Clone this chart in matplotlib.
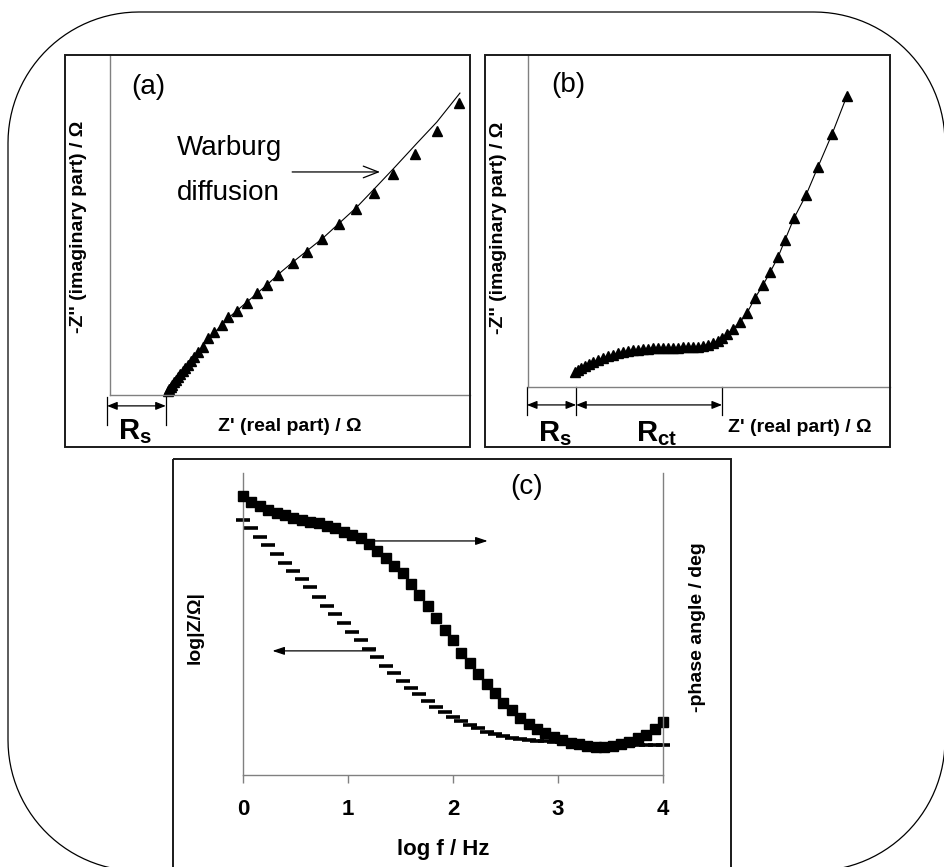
import numpy as np
import matplotlib
matplotlib.use("Agg")
import matplotlib.pyplot as plt
from matplotlib.patches import Rectangle, PathPatch
from matplotlib.path import Path
from matplotlib.transforms import Affine2D

plt.rcParams['font.family'] = ['Liberation Sans', 'DejaVu Sans']
plt.rcParams['mathtext.fontset'] = 'custom'
plt.rcParams['mathtext.rm'] = 'Liberation Sans'
plt.rcParams['mathtext.bf'] = 'Liberation Sans:bold'
plt.rcParams['mathtext.it'] = 'Liberation Sans:italic'

# ---- (a) Nyquist plot, diffusion controlled (arbitrary units) ----
a_re = [1.61, 1.64, 1.69, 1.72, 1.78, 1.83, 1.89, 1.94, 2.03, 2.08, 2.17, 2.25,
        2.33, 2.44, 2.58, 2.72, 2.89, 3.11, 3.28, 3.53, 3.81, 4.08, 4.36, 4.67,
        5.08, 5.47, 5.89, 6.36, 6.83, 7.33, 7.86, 8.47, 9.08, 9.69]
a_im = [0.12, 0.18, 0.24, 0.29, 0.38, 0.44, 0.53, 0.62, 0.71, 0.79, 0.88, 1.00,
        1.12, 1.26, 1.41, 1.68, 1.85, 2.06, 2.29, 2.47, 2.71, 3.00, 3.24, 3.53,
        3.88, 4.21, 4.59, 5.03, 5.47, 5.94, 6.50, 7.09, 7.76, 8.59]
a_fit_re = [1.61, 1.72, 1.89, 2.08, 2.33, 2.58, 2.89, 3.28, 3.81, 4.36, 4.72,
            5.08, 5.92, 6.86, 7.42, 7.92, 8.53, 9.08, 9.72]
a_fit_im = [0.00, 0.26, 0.53, 0.79, 1.12, 1.44, 1.82, 2.26, 2.74, 3.24, 3.59,
            3.91, 4.62, 5.53, 6.15, 6.71, 7.41, 8.03, 8.88]
rs_a = 1.55

# ---- (b) Nyquist plot, charge transfer + diffusion ----
b_re = [1.30, 1.38, 1.46, 1.58, 1.69, 1.80, 1.93, 2.07, 2.21, 2.35, 2.49, 2.62,
        2.76, 2.90, 3.04, 3.18, 3.32, 3.45, 3.59, 3.73, 3.87, 4.01, 4.14, 4.28,
        4.42, 4.56, 4.70, 4.83, 4.97, 5.11, 5.25, 5.36, 5.50, 5.66, 5.86, 6.05,
        6.27, 6.49, 6.69, 6.91, 7.10, 7.35, 7.68, 8.01, 8.40, 8.81]
b_im = [0.45, 0.51, 0.57, 0.63, 0.69, 0.75, 0.81, 0.87, 0.93, 0.96, 1.02, 1.05,
        1.08, 1.11, 1.11, 1.15, 1.15, 1.18, 1.18, 1.18, 1.18, 1.18, 1.18, 1.21,
        1.21, 1.21, 1.21, 1.24, 1.27, 1.33, 1.39, 1.48, 1.60, 1.75, 1.96, 2.23,
        2.68, 3.07, 3.46, 3.92, 4.43, 5.09, 5.78, 6.63, 7.62, 8.77]
rs_b = 1.33
rct_b = 4.03

# ---- (c) Bode plot ----
c_logf = [0.00, 0.08, 0.16, 0.24, 0.32, 0.40, 0.48, 0.56, 0.64, 0.72, 0.80, 0.88,
          0.96, 1.04, 1.12, 1.20, 1.28, 1.36, 1.44, 1.52, 1.60, 1.68, 1.76, 1.84,
          1.92, 2.00, 2.08, 2.16, 2.24, 2.32, 2.40, 2.48, 2.56, 2.64, 2.72, 2.80,
          2.88, 2.96, 3.04, 3.12, 3.20, 3.28, 3.36, 3.44, 3.52, 3.60, 3.68, 3.76,
          3.84, 3.92, 4.00]
c_logz = [3.33, 3.25, 3.16, 3.08, 3.00, 2.91, 2.83, 2.75, 2.67, 2.57, 2.48, 2.40,
          2.31, 2.22, 2.14, 2.05, 1.97, 1.88, 1.81, 1.73, 1.66, 1.60, 1.54, 1.48,
          1.43, 1.38, 1.34, 1.30, 1.27, 1.23, 1.21, 1.19, 1.17, 1.16, 1.15, 1.14,
          1.14, 1.13, 1.13, 1.12, 1.12, 1.11, 1.11, 1.11, 1.10, 1.10, 1.10, 1.10,
          1.10, 1.10, 1.10]
c_phase = [83.1, 81.4, 80.2, 79.0, 78.1, 77.5, 76.6, 76.0, 75.4, 75.1, 74.2, 73.6,
           72.4, 71.5, 70.6, 68.8, 66.8, 64.7, 62.3, 60.2, 56.9, 53.6, 50.4, 46.8,
           43.2, 40.2, 36.4, 33.4, 30.1, 27.1, 24.4, 21.5, 19.4, 17.0, 15.2, 13.7,
           12.5, 11.3, 10.4, 9.5, 9.2, 8.6, 8.3, 8.3, 8.6, 9.2, 9.8, 11.0,
           11.9, 13.7, 15.8]
c_ticks = [0, 1, 2, 3, 4]

W, H = 944, 867
fig = plt.figure(figsize=(W / 100, H / 100), dpi=100)
pix = Affine2D().scale(1 / W, -1 / H).translate(0, 1) + fig.transFigure


def rect(l, t, r, b):
    return [l / W, 1 - b / H, (r - l) / W, (b - t) / H]


def rounded_frame(l, t, r, b, rad):
    # corner arcs in pixel space (y grows downwards)
    verts = []
    for cx, cy, a0 in [(r - rad, t + rad, -90), (r - rad, b - rad, 0),
                       (l + rad, b - rad, 90), (l + rad, t + rad, 180)]:
        th = np.radians(np.linspace(a0, a0 + 90, 30))
        verts += list(zip(cx + rad * np.cos(th), cy + rad * np.sin(th)))
    verts.append(verts[0])
    return Path(verts)


grey = '#808080'
boxc = '#1a1a1a'

# outer rounded frame and panel frames
fig.add_artist(PathPatch(rounded_frame(8, 12, 945, 871, 131), transform=pix,
                         fill=False, lw=0.9, ec='k'))
for (l, t, w, h) in [(65, 55, 405, 392), (485, 55, 405, 392), (173, 459, 558, 440)]:
    fig.add_artist(Rectangle((l, t), w, h, transform=pix, fill=False, lw=1.4, ec=boxc))

arr_kw = dict(arrowstyle='<|-|>,head_length=0.5,head_width=0.2', color='k', lw=0.9,
              shrinkA=0, shrinkB=0, mutation_scale=12)


def nyquist_axes(pos):
    ax = fig.add_axes(pos)
    ax.set_xlim(0, 10)
    ax.set_ylim(0, 10)
    for s in ['top', 'right']:
        ax.spines[s].set_visible(False)
    for s in ['left', 'bottom']:
        ax.spines[s].set_color(grey)
        ax.spines[s].set_linewidth(1.0)
    ax.set_xticks([])
    ax.set_yticks([])
    ax.patch.set_alpha(0)
    ax.set_ylabel("-Z'' (imaginary part) / \u03a9", fontsize=14, fontweight='bold')
    return ax


# ---- panel (a) ----
ax_a = nyquist_axes(rect(110, 55, 470, 395))
ax_a.plot(a_fit_re, a_fit_im, color='k', lw=0.8)
ax_a.plot(a_re, a_im, ls='none', marker='^', ms=7, color='k', clip_on=False)
ax_a.yaxis.set_label_coords(-0.064, 0.494)
ax_a.text(5.0, -0.94, "Z' (real part) / \u03a9", fontsize=14, fontweight='bold',
          ha='center', va='center')
ax_a.text(1.06, 9.06, '(a)', fontsize=20, ha='center', va='center')
ax_a.text(1.86, 7.26, 'Warburg', fontsize=20, ha='left', va='center')
ax_a.text(1.86, 5.94, 'diffusion', fontsize=20, ha='left', va='center')
ax_a.annotate('', xy=(7.5, 6.56), xytext=(5.06, 6.56),
              arrowprops=dict(arrowstyle='->,head_length=0.9,head_width=0.35', color='k',
                              lw=0.9, shrinkA=0, shrinkB=0, mutation_scale=12))
for x in [-0.08, rs_a]:
    ax_a.plot([x, x], [-0.06, -0.88], color='k', lw=0.9, clip_on=False)
ax_a.annotate('', xy=(rs_a, -0.32), xytext=(-0.08, -0.32), arrowprops=arr_kw,
              annotation_clip=False)
ax_a.text(0.69, -1.09, r'$\mathbf{R_s}$', fontsize=21, ha='center', va='center')

# ---- panel (b) ----
ax_b = nyquist_axes(rect(528, 55, 890, 387))
ax_b.plot(b_re, b_im, color='k', lw=0.8, marker='^', ms=7, clip_on=False)
ax_b.yaxis.set_label_coords(-0.058, 0.48)
ax_b.text(7.51, -1.23, "Z' (real part) / \u03a9", fontsize=14, fontweight='bold',
          ha='center', va='center')
ax_b.text(1.10, 9.10, '(b)', fontsize=20, ha='center', va='center')
for x in [-0.03, rs_b, rs_b + rct_b]:
    ax_b.plot([x, x], [0, -0.84], color='k', lw=0.9, clip_on=False)
ax_b.annotate('', xy=(rs_b, -0.54), xytext=(-0.03, -0.54), arrowprops=arr_kw,
              annotation_clip=False)
ax_b.annotate('', xy=(rs_b + rct_b, -0.54), xytext=(rs_b, -0.54), arrowprops=arr_kw,
              annotation_clip=False)
ax_b.text(0.75, -1.39, r'$\mathbf{R_s}$', fontsize=21, ha='center', va='center')
ax_b.text(3.54, -1.39, r'$\mathbf{R_{ct}}$', fontsize=21, ha='center', va='center')

# ---- panel (c) ----
ax_c = fig.add_axes(rect(243, 473, 663, 775))
ax_c.patch.set_alpha(0)
ax_c.set_xlim(0, 4)
ax_c.set_ylim(0.8, 3.8)
ax_c.plot(c_logf, c_logz, ls='none', marker='_', ms=10, mew=2.6, color='k', clip_on=False)
ax_c.spines['top'].set_visible(False)
ax_c.spines['right'].set_visible(False)
for s in ['left', 'bottom']:
    ax_c.spines[s].set_color(grey)
    ax_c.spines[s].set_linewidth(1.0)
ax_c.set_yticks([])
ax_c.set_xticks(c_ticks)
ax_c.set_xticklabels([str(t) for t in c_ticks], fontsize=16, fontweight='bold')
ax_c.tick_params(axis='x', direction='out', length=6, width=1.0, color=grey, pad=11)
ax_c.set_xlabel('log f / Hz', fontsize=16, fontweight='bold')
ax_c.xaxis.set_label_coords(0.476, -0.248)
ax_c.xaxis.label.set_va('center')
ax_c.set_ylabel('log|Z/\u03a9|', fontsize=14, fontweight='bold')
ax_c.yaxis.set_label_coords(-0.114, 0.49)
ax_c.yaxis.label.set_va('center')

ax_c2 = ax_c.twinx()
ax_c2.set_ylim(0, 90)
ax_c2.plot(c_logf, c_phase, ls='none', marker='s', ms=6.5, color='k', clip_on=False)
for s in ['top', 'left', 'bottom']:
    ax_c2.spines[s].set_visible(False)
ax_c2.spines['right'].set_color(grey)
ax_c2.spines['right'].set_linewidth(1.0)
ax_c2.set_yticks([])
ax_c2.set_ylabel('-phase angle / deg', fontsize=14, fontweight='bold', rotation=90)
ax_c2.yaxis.set_label_coords(1.083, 0.49)
ax_c2.yaxis.label.set_va('center')

ax_c.text(2.70, 0.954, '(c)', fontsize=20, ha='center', va='center',
          transform=ax_c.get_xaxis_transform())
tri_kw = dict(arrowstyle='-|>,head_length=0.6,head_width=0.2', color='k', lw=0.9,
              shrinkA=0, shrinkB=0, mutation_scale=12)
ax_c.annotate('', xy=(2.33, 0.775), xytext=(1.24, 0.775), arrowprops=tri_kw,
              xycoords=ax_c.get_xaxis_transform(), textcoords=ax_c.get_xaxis_transform())
ax_c.annotate('', xy=(0.28, 0.411), xytext=(1.26, 0.411), arrowprops=tri_kw,
              xycoords=ax_c.get_xaxis_transform(), textcoords=ax_c.get_xaxis_transform())

fig.savefig('out.png', dpi=100)
